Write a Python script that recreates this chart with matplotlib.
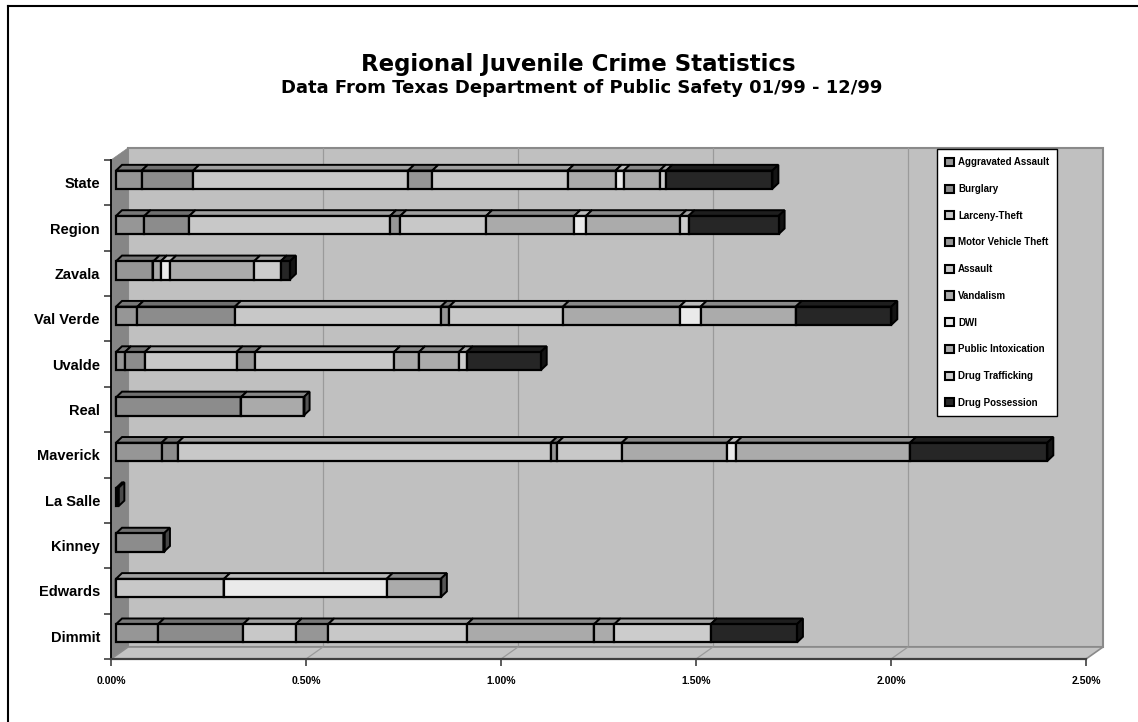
import numpy as np
import matplotlib
matplotlib.use("Agg")
import matplotlib.pyplot as plt
from matplotlib.patches import Polygon, Patch
from matplotlib.lines import Line2D
from matplotlib.colors import to_rgb

# regions, top to bottom as in the chart
regions = ["State", "Region", "Zavala", "Val Verde", "Uvalde", "Real",
           "Maverick", "La Salle", "Kinney", "Edwards", "Dimmit"]

crimes = ["Aggravated Assault", "Burglary", "Larceny-Theft", "Motor Vehicle Theft",
          "Assault", "Vandalism", "DWI", "Public Intoxication",
          "Drug Trafficking", "Drug Possession"]

# percent of juveniles, one list per crime, in region order above
agg_assault = [0.066, 0.073, 0.096, 0.055, 0.023, 0.0,   0.117, 0.006, 0.0,   0.0,   0.108]
burglary    = [0.132, 0.115, 0.0,   0.250, 0.051, 0.320, 0.041, 0.0,   0.123, 0.0,   0.218]
larceny     = [0.551, 0.515, 0.0,   0.528, 0.235, 0.0,   0.957, 0.0,   0.0,   0.277, 0.135]
mv_theft    = [0.062, 0.026, 0.0,   0.021, 0.048, 0.0,   0.017, 0.0,   0.0,   0.0,   0.083]
assault     = [0.347, 0.220, 0.0,   0.292, 0.356, 0.0,   0.165, 0.0,   0.0,   0.0,   0.356]
vandalism   = [0.123, 0.226, 0.019, 0.299, 0.064, 0.161, 0.270, 0.0,   0.0,   0.0,   0.326]
dwi         = [0.021, 0.030, 0.024, 0.054, 0.0,   0.0,   0.022, 0.0,   0.0,   0.417, 0.0]
public_intox = [0.092, 0.242, 0.215, 0.244, 0.102, 0.0,  0.447, 0.0,   0.0,   0.139, 0.052]
drug_traff  = [0.017, 0.021, 0.068, 0.0,   0.020, 0.0,   0.0,   0.0,   0.0,   0.0,   0.247]
drug_poss   = [0.272, 0.231, 0.024, 0.245, 0.190, 0.0,   0.352, 0.0,   0.0,   0.0,   0.221]

series = [agg_assault, burglary, larceny, mv_theft, assault, vandalism,
          dwi, public_intox, drug_traff, drug_poss]
colors = ["#969696", "#8c8c8c", "#c8c8c8", "#969696", "#c8c8c8",
          "#aaaaaa", "#eaeaea", "#ababab", "#cccccc", "#262626"]

W, H = 1138, 722
fig = plt.figure(figsize=(W / 100, H / 100), dpi=100)
fig.patch.set_facecolor("white")

LBL = dict(family="Liberation Sans", fontweight="bold")

ax = fig.add_axes([111 / W, (H - 659) / H, 975 / W, 499 / H])
ax.set_xlim(0, 2.5)
ax.set_ylim(-0.5, 10.5)
ax.patch.set_alpha(0)

# pixel -> data helpers
px = 2.5 / 975
py = 11 / 499

# 3d walls
wdx, wdy = 17 * px, 12 * py
back = Polygon([(wdx, -0.5 + wdy), (2.5 + wdx, -0.5 + wdy), (2.5 + wdx, 10.5 + wdy), (wdx, 10.5 + wdy)],
               closed=True, facecolor="#c0c0c0", edgecolor="#8a8a8a", lw=1.5, zorder=0, clip_on=False)
ax.add_patch(back)
left_wall = Polygon([(0, -0.5), (wdx, -0.5 + wdy), (wdx, 10.5 + wdy), (0, 10.5)],
                    closed=True, facecolor="#868686", edgecolor="#868686", lw=0.5, zorder=1, clip_on=False)
ax.add_patch(left_wall)
floor = Polygon([(0, -0.5), (2.5, -0.5), (2.5 + wdx, -0.5 + wdy), (wdx, -0.5 + wdy)],
                closed=True, facecolor="#c4c4c4", edgecolor="#8a8a8a", lw=1.2, zorder=1, clip_on=False)
ax.add_patch(floor)
for g in [0.5, 1.0, 1.5, 2.0]:
    ax.plot([g + wdx, g + wdx], [-0.5 + wdy, 10.5 + wdy], color="#9a9a9a", lw=0.9, zorder=0.5, clip_on=False)
    ax.plot([g, g + wdx], [-0.5, -0.5 + wdy], color="#9a9a9a", lw=0.9, zorder=1.5, clip_on=False)

# bars
fx, fy = 5 * px, 3 * py
bdx, bdy = 6 * px, 5.7 * py
bh = 0.403
ypos = np.arange(len(regions))[::-1]


def shade(c, f):
    r, g, b = to_rgb(c)
    return (r * f, g * f, b * f)


lefts = np.zeros(len(regions))
for vals, col, name in zip(series, colors, crimes):
    vals = np.array(vals)
    ax.barh(ypos + fy, vals, left=lefts + fx, height=bh, color=col,
            edgecolor="black", linewidth=1.6, zorder=4, label=name)
    for i, v in enumerate(vals):
        if v <= 0:
            continue
        l = lefts[i] + fx
        r = l + v
        yt = ypos[i] + fy + bh / 2
        top = Polygon([(l, yt), (r, yt), (r + bdx, yt + bdy), (l + bdx, yt + bdy)],
                      closed=True, facecolor=shade(col, 0.8), edgecolor="black", lw=1.4, zorder=3)
        ax.add_patch(top)
    lefts = lefts + vals

# right side face of each bar
for i, tot in enumerate(lefts):
    last = [c for v, c in zip([s[i] for s in series], colors) if v > 0][-1]
    r = tot + fx
    yb = ypos[i] + fy - bh / 2
    yt = ypos[i] + fy + bh / 2
    side = Polygon([(r, yb), (r, yt), (r + bdx, yt + bdy), (r + bdx, yb + bdy)],
                   closed=True, facecolor=shade(last, 0.5), edgecolor="black", lw=1.4, zorder=3.5)
    ax.add_patch(side)

# axes
for s in ["top", "right"]:
    ax.spines[s].set_visible(False)
ax.spines["left"].set_color("black")
ax.spines["left"].set_linewidth(1.3)
ax.spines["left"].set_zorder(2)
ax.spines["bottom"].set_color("#404040")
ax.spines["bottom"].set_linewidth(1.6)
ax.spines["bottom"].set_zorder(2)

ax.set_xticks([0, 0.5, 1.0, 1.5, 2.0, 2.5])
ax.set_xticklabels(["0.00%", "0.50%", "1.00%", "1.50%", "2.00%", "2.50%"], fontsize=7.5, **LBL)
ax.tick_params(axis="x", length=5, width=1.2, color="#404040", pad=7)

ax.set_yticks(ypos)
ax.set_yticklabels(regions, fontsize=10.5, **LBL)
ax.set_yticks(np.arange(-0.5, 11, 1.0), minor=True)
ax.tick_params(axis="y", which="major", length=0, pad=8)
ax.tick_params(axis="y", which="minor", length=5, width=1.2, color="#404040")

# legend
handles = [Patch(facecolor=c, edgecolor="black", linewidth=1.5, label=n) for c, n in zip(colors, crimes)]
leg = ax.legend(handles=handles, loc="upper left", bbox_to_anchor=(937 / W, 1 - 149 / H),
                bbox_transform=fig.transFigure, frameon=True, fancybox=False, framealpha=1,
                borderaxespad=0, handlelength=0.9, handleheight=0.9, handletextpad=0.4,
                labelspacing=1.72, borderpad=0.85,
                prop=dict(size=7, family="Liberation Sans", weight="bold"))
leg.get_frame().set_edgecolor("black")
leg.get_frame().set_facecolor("white")
leg.get_frame().set_linewidth(1.0)
leg.set_zorder(6)

# titles
fig.text(578 / W, 1 - 71 / H, "Regional Juvenile Crime Statistics", ha="center", va="baseline",
         fontsize=16.5, fontweight="bold", family="DejaVu Sans")
fig.text(582 / W, 1 - 93 / H, "Data From Texas Department of Public Safety 01/99 - 12/99",
         ha="center", va="baseline", fontsize=13, fontweight="bold", family="DejaVu Sans")

# outer frame (left and top edges visible)
fig.add_artist(Line2D([8 / W, 8 / W], [0, 1 - 6 / H], transform=fig.transFigure, color="black", lw=1.5))
fig.add_artist(Line2D([8 / W, 1], [1 - 6 / H, 1 - 6 / H], transform=fig.transFigure, color="black", lw=1.5))

fig.savefig("out.png", dpi=100)
